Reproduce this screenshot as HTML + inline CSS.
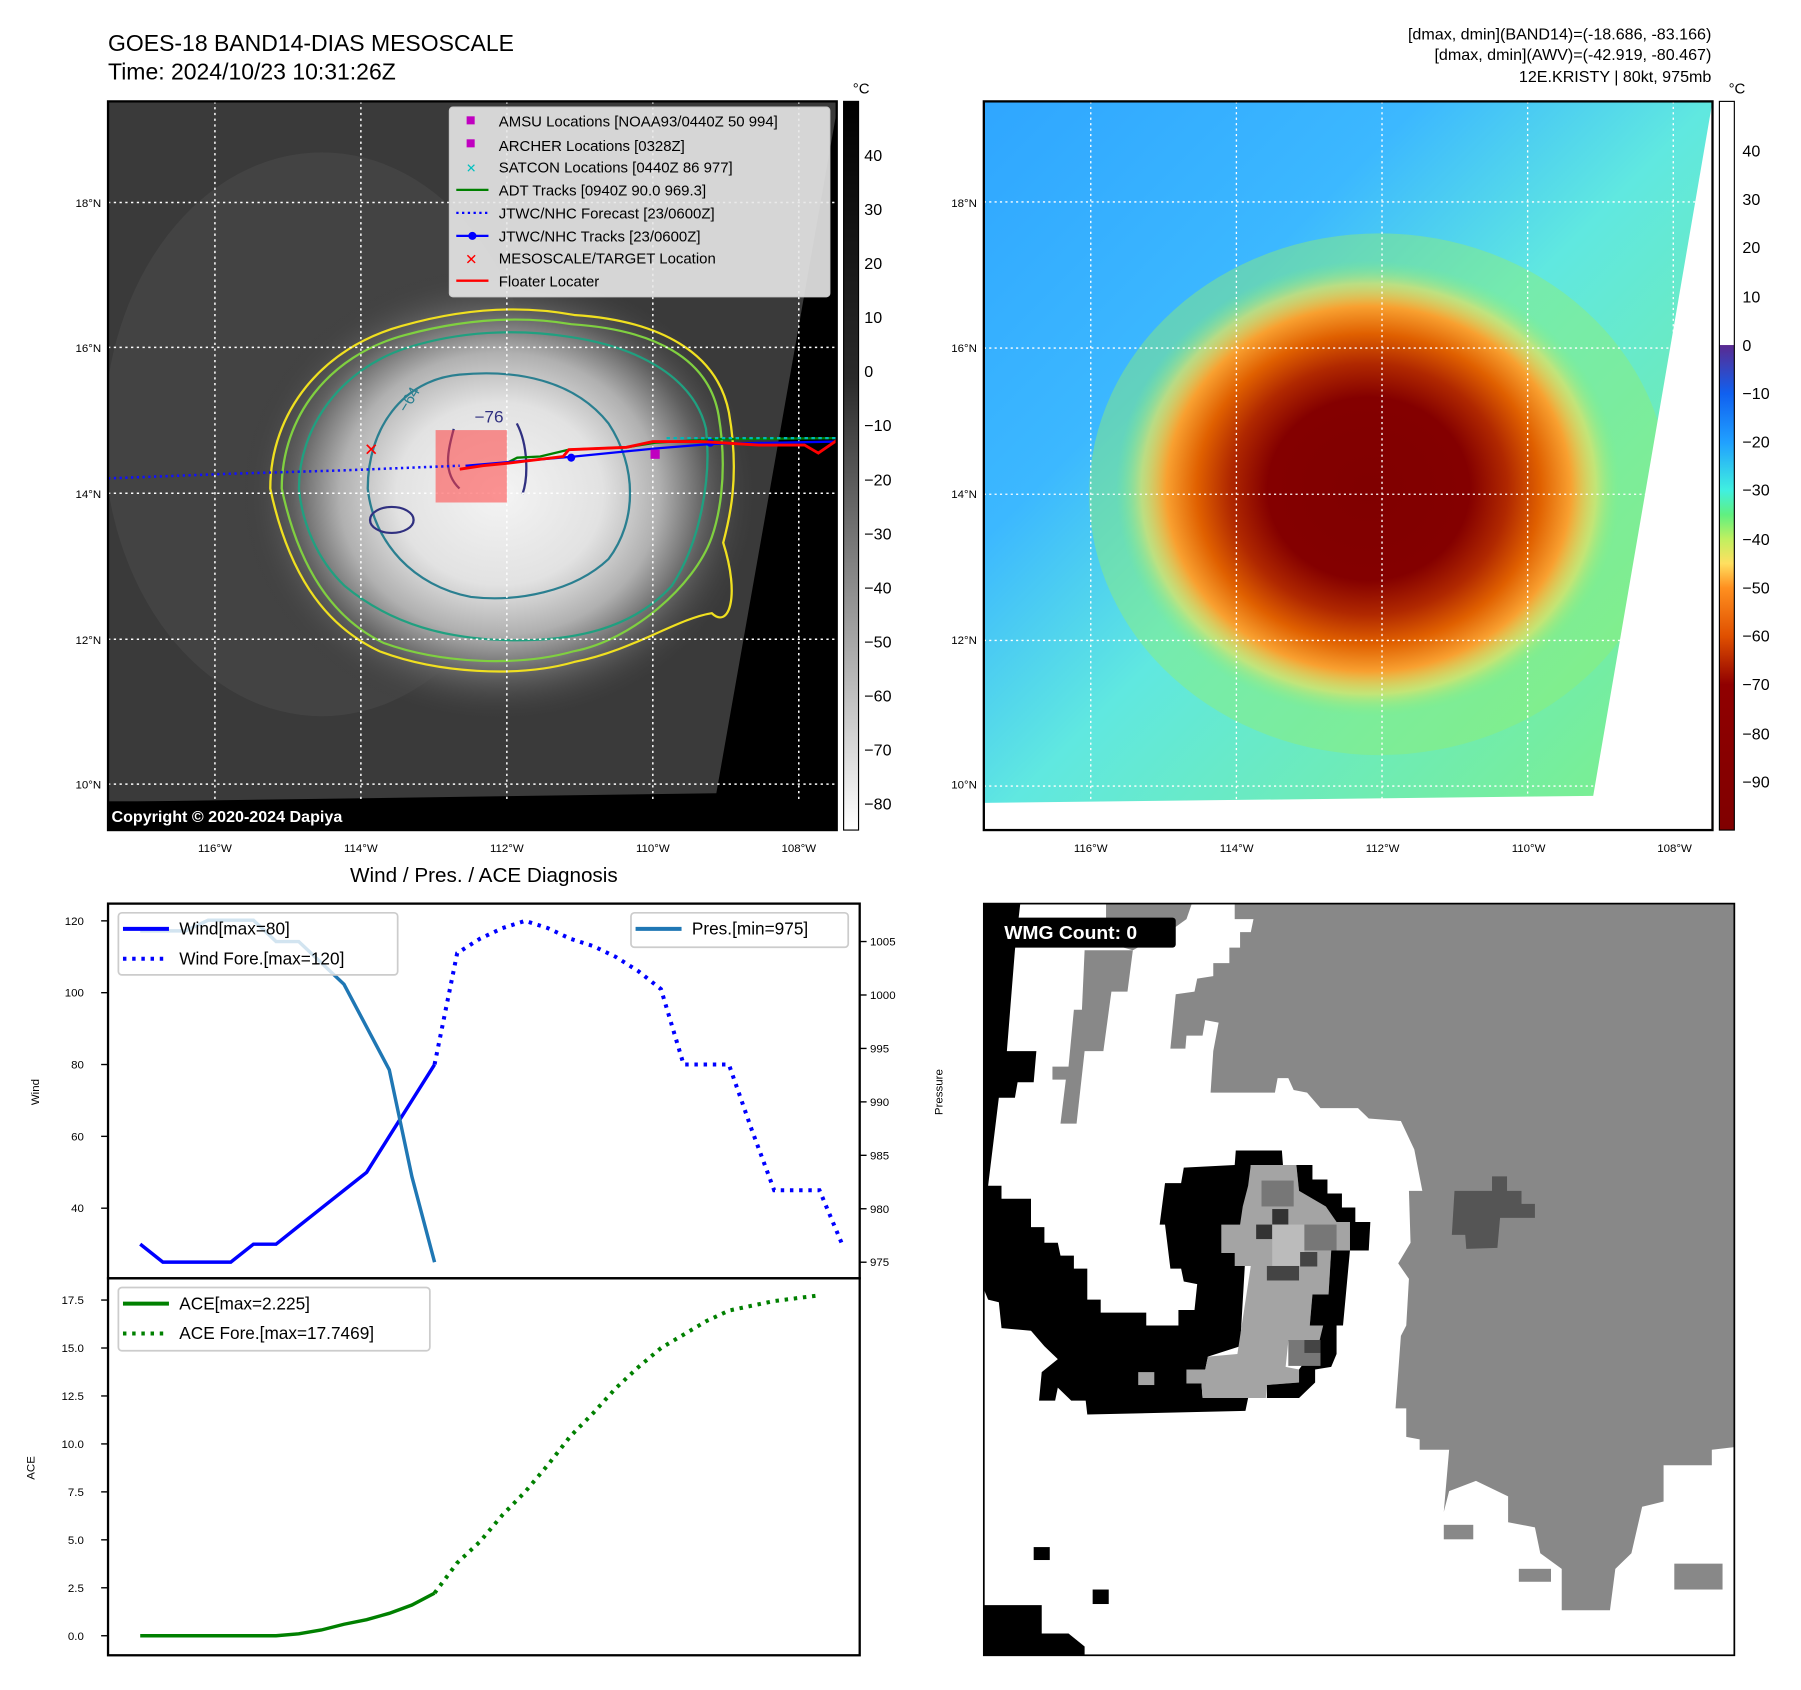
<!DOCTYPE html>
<html><head><meta charset="utf-8"><title>GOES-18 Kristy</title>
<style>
html,body{margin:0;padding:0;background:#fff;}
svg{display:block;font-family:"Liberation Sans","DejaVu Sans",sans-serif;}
</style></head>
<body>
<svg id="root" width="1801" height="1690" viewBox="0 0 1567 1470" xmlns="http://www.w3.org/2000/svg">
<defs>
  <radialGradient id="gStorm" cx="0.5" cy="0.5" r="0.5">
    <stop offset="0" stop-color="#f4f4f4"/>
    <stop offset="0.4" stop-color="#e2e2e2"/>
    <stop offset="0.62" stop-color="#b0b0b0"/>
    <stop offset="0.8" stop-color="#606060"/>
    <stop offset="1" stop-color="#3c3c3c" stop-opacity="0"/>
  </radialGradient>
  <linearGradient id="gBg" x1="0" y1="0" x2="1" y2="1">
    <stop offset="0" stop-color="#2fa6ff"/>
    <stop offset="0.3" stop-color="#3cb8ff"/>
    <stop offset="0.5" stop-color="#60e8e0"/>
    <stop offset="1" stop-color="#80f080"/>
  </linearGradient>
  <radialGradient id="gRed" cx="0.5" cy="0.5" r="0.5">
    <stop offset="0" stop-color="#800000"/>
    <stop offset="0.4" stop-color="#840000"/>
    <stop offset="0.55" stop-color="#b02800"/>
    <stop offset="0.68" stop-color="#e06000"/>
    <stop offset="0.8" stop-color="#f8a030"/>
    <stop offset="0.9" stop-color="#f0e060" stop-opacity="0.6"/>
    <stop offset="1" stop-color="#80f080" stop-opacity="0"/>
  </radialGradient>
  <linearGradient id="gCbL" x1="0" y1="0" x2="0" y2="1">
    <stop offset="0" stop-color="#000"/>
    <stop offset="0.38" stop-color="#2a2a2a"/>
    <stop offset="1" stop-color="#fff"/>
  </linearGradient>
  <linearGradient id="gCbR" x1="0" y1="0" x2="0" y2="1">
    <stop offset="0" stop-color="#5a2a90"/>
    <stop offset="0.1" stop-color="#1060f0"/>
    <stop offset="0.2" stop-color="#20a0ff"/>
    <stop offset="0.3" stop-color="#40f0e0"/>
    <stop offset="0.35" stop-color="#60f080"/>
    <stop offset="0.4" stop-color="#c0f060"/>
    <stop offset="0.45" stop-color="#ffe060"/>
    <stop offset="0.5" stop-color="#ff9020"/>
    <stop offset="0.6" stop-color="#e05000"/>
    <stop offset="0.7" stop-color="#900000"/>
    <stop offset="1" stop-color="#800000"/>
  </linearGradient>
</defs>

<text x="94" y="44" font-size="20">GOES-18 BAND14-DIAS MESOSCALE</text>
<text x="94" y="69" font-size="20">Time: 2024/10/23 10:31:26Z</text>
<g font-size="14" text-anchor="end">
<text x="1489" y="34">[dmax, dmin](BAND14)=(-18.686, -83.166)</text>
<text x="1489" y="52">[dmax, dmin](AWV)=(-42.919, -80.467)</text>
<text x="1489" y="71">12E.KRISTY | 80kt, 975mb</text>
</g>

<g>
<svg x="94" y="88" width="634" height="634" viewBox="187 186 1271 1344" preserveAspectRatio="none">
  <rect x="187" y="186" width="1271" height="1344" fill="#3a3a3a"/>
  <ellipse cx="560" cy="800" rx="380" ry="520" fill="#505050" opacity="0.45"/>
  <ellipse cx="870" cy="910" rx="450" ry="420" fill="url(#gStorm)"/>
  <g fill="none" stroke-width="4">
    <path d="M470,900 C470,760 560,640 700,600 C800,570 900,560 1000,580 C1150,590 1250,650 1270,760 C1290,880 1270,960 1260,1000 C1290,1100 1270,1160 1240,1130 C1180,1140 1100,1200 1000,1220 C900,1250 760,1240 660,1200 C560,1150 500,1050 470,900 Z" stroke="#f0e020"/>
    <path d="M490,900 C490,770 570,655 705,617 C800,590 900,580 995,597 C1140,607 1235,660 1252,765 C1270,880 1250,960 1240,990 C1210,1080 1100,1180 1000,1200 C900,1230 765,1222 668,1185 C575,1138 518,1040 490,900 Z" stroke="#80d040"/>
    <path d="M520,900 C520,790 590,680 710,640 C800,610 900,605 990,620 C1120,640 1210,700 1230,790 C1240,880 1220,1000 1170,1080 C1100,1160 1000,1180 900,1180 C780,1180 680,1150 600,1080 C550,1030 525,960 520,900 Z" stroke="#20a080"/>
    <path d="M640,900 C640,790 700,700 800,690 C900,680 1000,700 1060,780 C1110,860 1110,960 1060,1030 C1000,1090 900,1110 820,1100 C720,1080 650,1000 640,900 Z" stroke="#2a7f90"/>
    <ellipse cx="682" cy="958" rx="38" ry="24" stroke="#303080"/>
    <path d="M790,790 C780,830 770,870 800,900 M900,780 C920,820 920,880 910,910" stroke="#303080"/>
  </g>
  <text x="826" y="778" font-size="30" fill="#303080">−76</text>
  <text x="690" y="760" font-size="28" fill="#2a7f90" transform="rotate(-60 700 745)">−64</text>
  <polygon points="1461,186 1248,1462 187,1478 187,1530 1458,1530 1458,186" fill="#000"/>
</svg>
<g stroke="#fff" stroke-width="1.3" stroke-dasharray="2 3">
  <line x1="187" y1="88" x2="187" y2="722"/><line x1="314" y1="88" x2="314" y2="722"/>
  <line x1="441" y1="88" x2="441" y2="722"/><line x1="568" y1="88" x2="568" y2="722"/>
  <line x1="695" y1="88" x2="695" y2="722"/>
  <line x1="94" y1="176" x2="728" y2="176"/><line x1="94" y1="302" x2="728" y2="302"/>
  <line x1="94" y1="429" x2="728" y2="429"/><line x1="94" y1="556" x2="728" y2="556"/>
  <line x1="94" y1="682" x2="728" y2="682"/>
</g>
<rect x="379" y="374" width="62" height="63" fill="#ff4040" opacity="0.55"/>
<polyline points="94,416 200,412 300,409 400,405" fill="none" stroke="#1010ff" stroke-width="2.2" stroke-dasharray="2 3"/>
<polyline points="440,403 450,398 470,397 495,391 545,389 570,385 620,382 728,381" fill="none" stroke="#008000" stroke-width="2"/>
<polyline points="405,405 500,397 570,390 620,386 728,384" fill="none" stroke="#0000ff" stroke-width="2"/>
<circle cx="497" cy="398" r="3.5" fill="#0000ff"/><circle cx="618" cy="385" r="3.5" fill="#0000ff"/>
<polyline points="400,408 420,405 440,403 490,397 495,391 545,389 568,384 610,384 660,387 700,387 712,394 728,383" fill="none" stroke="#ff0000" stroke-width="2.5"/>
<polyline points="580,381 728,381" fill="none" stroke="#00b8b8" stroke-width="2" stroke-dasharray="3 3"/>
<rect x="566" y="391" width="8" height="8" fill="#c000c0"/>
<text x="323" y="396" font-size="15" fill="#ff0000" text-anchor="middle" font-weight="bold">✕</text>
<rect x="94" y="697" width="634" height="25" fill="#000"/>
<text x="97" y="715" font-size="14" font-weight="bold" fill="#fff">Copyright © 2020-2024 Dapiya</text>
<rect x="94" y="88" width="634" height="634" fill="none" stroke="#000" stroke-width="2"/>
<g>
<rect x="391" y="93" width="331" height="165" rx="3" fill="#e8e8e8" fill-opacity="0.9" stroke="#ccc"/>
<g font-size="13">
<rect x="406" y="101" width="7" height="7" fill="#c000c0"/><text x="434" y="110">AMSU Locations [NOAA93/0440Z 50 994]</text>
<rect x="406" y="121" width="7" height="7" fill="#c000c0"/><text x="434" y="131">ARCHER Locations [0328Z]</text>
<text x="410" y="150" text-anchor="middle" fill="#00c0c0" font-size="11" font-weight="bold">✕</text><text x="434" y="150">SATCON Locations [0440Z 86 977]</text>
<line x1="397" y1="165" x2="425" y2="165" stroke="#008000" stroke-width="2"/><text x="434" y="170">ADT Tracks [0940Z 90.0 969.3]</text>
<line x1="397" y1="185" x2="425" y2="185" stroke="#0000ff" stroke-width="2" stroke-dasharray="2 3"/><text x="434" y="190">JTWC/NHC Forecast [23/0600Z]</text>
<line x1="397" y1="205" x2="425" y2="205" stroke="#0000ff" stroke-width="2"/><circle cx="411" cy="205" r="3.5" fill="#0000ff"/><text x="434" y="210">JTWC/NHC Tracks [23/0600Z]</text>
<text x="410" y="230" text-anchor="middle" fill="#ff0000" font-size="13" font-weight="bold">✕</text><text x="434" y="229">MESOSCALE/TARGET Location</text>
<line x1="397" y1="244" x2="425" y2="244" stroke="#ff0000" stroke-width="2"/><text x="434" y="249">Floater Locater</text>
</g></g>
<g font-size="10" text-anchor="end">
<text x="88" y="180">18°N</text><text x="88" y="306">16°N</text><text x="88" y="433">14°N</text><text x="88" y="560">12°N</text><text x="88" y="686">10°N</text>
</g>
<g font-size="10" text-anchor="middle">
<text x="187" y="741">116°W</text><text x="314" y="741">114°W</text><text x="441" y="741">112°W</text><text x="568" y="741">110°W</text><text x="695" y="741">108°W</text>
</g>
</g>
<g>
<rect x="734" y="88" width="13" height="634" fill="url(#gCbL)" stroke="#000" stroke-width="1"/>
<text x="742" y="81" font-size="13">°C</text>
<g font-size="14">
<text x="752" y="140">40</text><text x="752" y="187">30</text><text x="752" y="234">20</text><text x="752" y="281">10</text>
<text x="752" y="328">0</text><text x="752" y="375">−10</text><text x="752" y="422">−20</text><text x="752" y="469">−30</text>
<text x="752" y="516">−40</text><text x="752" y="563">−50</text><text x="752" y="610">−60</text><text x="752" y="657">−70</text><text x="752" y="704">−80</text>
</g></g>

<g>
<svg x="856" y="88" width="634" height="634" viewBox="44 187 1356 1341" preserveAspectRatio="none">
  <rect x="44" y="187" width="1356" height="1341" fill="url(#gBg)"/>
  <ellipse cx="780" cy="910" rx="540" ry="480" fill="#90f070" opacity="0.45"/>
  <ellipse cx="760" cy="900" rx="470" ry="420" fill="url(#gRed)"/>
  <polygon points="1400,187 1400,1528 44,1528 44,1478 1178,1465" fill="#fff"/>
  <g stroke="#fff" stroke-width="2.5" stroke-dasharray="4 6" fill="none">
    <line x1="243" y1="187" x2="243" y2="1528"/><line x1="514" y1="187" x2="514" y2="1528"/>
    <line x1="785" y1="187" x2="785" y2="1528"/><line x1="1056" y1="187" x2="1056" y2="1528"/>
    <line x1="1327" y1="187" x2="1327" y2="1528"/>
    <line x1="44" y1="372" x2="1400" y2="372"/><line x1="44" y1="641" x2="1400" y2="641"/>
    <line x1="44" y1="910" x2="1400" y2="910"/><line x1="44" y1="1179" x2="1400" y2="1179"/>
    <line x1="44" y1="1447" x2="1400" y2="1447"/>
  </g>
</svg>
<rect x="856" y="88" width="634" height="634" fill="none" stroke="#000" stroke-width="2"/>
<g font-size="10" text-anchor="end">
<text x="850" y="180">18°N</text><text x="850" y="306">16°N</text><text x="850" y="433">14°N</text><text x="850" y="560">12°N</text><text x="850" y="686">10°N</text>
</g>
<g font-size="10" text-anchor="middle">
<text x="949" y="741">116°W</text><text x="1076" y="741">114°W</text><text x="1203" y="741">112°W</text><text x="1330" y="741">110°W</text><text x="1457" y="741">108°W</text>
</g>
</g>
<g>
<rect x="1496" y="88" width="13" height="212" fill="#fff"/>
<rect x="1496" y="300" width="13" height="422" fill="url(#gCbR)"/>
<rect x="1496" y="88" width="13" height="634" fill="none" stroke="#000" stroke-width="1"/>
<text x="1504" y="81" font-size="13">°C</text>
<g font-size="14">
<text x="1516" y="136">40</text><text x="1516" y="178">30</text><text x="1516" y="220">20</text><text x="1516" y="263">10</text>
<text x="1516" y="305">0</text><text x="1516" y="347">−10</text><text x="1516" y="389">−20</text><text x="1516" y="431">−30</text>
<text x="1516" y="474">−40</text><text x="1516" y="516">−50</text><text x="1516" y="558">−60</text><text x="1516" y="600">−70</text>
<text x="1516" y="643">−80</text><text x="1516" y="685">−90</text>
</g></g>

<g>
<svg x="856" y="786" width="653" height="654" viewBox="42 45 1400 1452" preserveAspectRatio="none">
  <rect x="42" y="45" width="1400" height="1452" fill="#fff"/>
  <polygon fill="#888" points="510,45 1442,45 1442,1095 1400,1100 1400,1130 1310,1130 1310,1200 1270,1210 1250,1300 1220,1330 1210,1410 1120,1410 1120,1330 1080,1300 1070,1250 1020,1240 1020,1190 960,1160 910,1180 900,1220 910,1100 855,1100 855,1080 830,1075 830,1020 810,1020 820,880 830,860 835,770 815,740 838,700 835,600 860,600 845,520 820,465 760,460 740,440 670,440 645,410 620,405 610,382 590,382 585,410 465,410 470,330 480,275 455,270 450,300 420,300 418,325 390,325 400,220 435,215 440,190 470,185 470,160 500,160 500,130 520,130 520,100 540,100 545,75 510,75"/>
  <polygon fill="#888" points="230,135 320,135 310,215 280,215 265,330 230,330 215,470 185,470 195,385 170,385 170,360 200,360 210,250 225,250"/>
  <polygon fill="#888" points="270,45 430,45 420,75 400,90 320,135 270,120"/>
  <rect x="1330" y="1320" width="90" height="50" fill="#888"/><rect x="1040" y="1330" width="60" height="25" fill="#888"/><rect x="900" y="1245" width="55" height="28" fill="#888"/>
  <polygon fill="#000" points="42,45 110,45 100,135 85,330 140,330 135,390 105,390 100,420 70,420 50,590 75,590 75,615 130,615 130,670 155,670 155,700 180,700 185,725 210,725 210,750 235,750 235,810 260,810 260,835 345,835 345,860 405,860 405,830 435,830 440,780 415,775 410,750 390,750 380,665 370,665 380,585 410,585 415,555 510,550 512,522 598,522 600,550 540,550 520,900 460,920 455,945 420,945 420,972 448,972 450,1000 535,1000 530,1025 235,1032 232,1005 205,1005 180,980 175,1005 145,1005 150,950 180,925 155,900 130,870 75,865 70,815 50,810 42,790"/>
  <polygon fill="#a4a4a4" points="540,550 625,550 630,600 680,630 700,660 725,660 725,715 690,715 685,800 655,800 650,860 675,860 670,890 610,890 605,940 630,945 630,970 570,975 568,1000 450,1000 448,972 420,972 420,945 455,945 460,920 515,915 540,745 510,745 510,720 485,720 485,665 520,665 525,630 535,590"/>
  <polygon fill="#000" points="625,550 655,550 655,578 683,578 683,605 710,605 710,632 735,632 735,660 763,660 760,715 725,715 712,860 700,860 700,915 690,940 660,945 660,970 630,1000 570,1000 570,975 630,970 630,945 668,890 675,860 650,860 655,800 685,800 690,715 725,715 725,660 700,660 680,630 630,600"/>
  <rect x="560" y="580" width="60" height="50" fill="#777"/><rect x="580" y="635" width="30" height="30" fill="#333"/>
  <rect x="550" y="665" width="30" height="28" fill="#333"/><rect x="580" y="665" width="60" height="80" fill="#bbb"/>
  <rect x="640" y="665" width="60" height="50" fill="#777"/><rect x="570" y="745" width="60" height="28" fill="#444"/>
  <rect x="632" y="718" width="32" height="28" fill="#444"/><rect x="610" y="888" width="60" height="50" fill="#777"/>
  <rect x="640" y="888" width="30" height="25" fill="#444"/>
  <polygon fill="#555" points="920,600 990,600 990,572 1018,572 1018,600 1045,600 1045,625 1070,625 1070,652 1005,652 1000,710 942,712 940,685 915,685"/>
  <polygon fill="#000" points="42,1400 150,1400 150,1455 200,1455 230,1480 230,1497 42,1497"/>
  <rect x="135" y="1288" width="30" height="25" fill="#000"/><rect x="245" y="1370" width="30" height="28" fill="#000"/>
  <rect x="330" y="950" width="30" height="25" fill="#a4a4a4"/>
  <rect x="75" y="72" width="325" height="58" rx="6" fill="#000"/>
  <text x="80" y="113" font-size="36" font-weight="bold" fill="#fff">WMG Count: 0</text>
</svg>
<rect x="856" y="786" width="653" height="654" fill="none" stroke="#000" stroke-width="1.5"/>
</g>

<text x="421" y="767" font-size="18" text-anchor="middle">Wind / Pres. / ACE Diagnosis</text>
<g id="chart"></g>
<rect x="94" y="786" width="654" height="326" fill="none" stroke="#000" stroke-width="2"/>
<rect x="94" y="1112" width="654" height="328" fill="none" stroke="#000" stroke-width="2"/>
<text transform="translate(34,950) rotate(-90)" font-size="10" text-anchor="middle">Wind</text>
<text transform="translate(820,950) rotate(-90)" font-size="10" text-anchor="middle">Pressure</text>
<text transform="translate(30,1277) rotate(-90)" font-size="10" text-anchor="middle">ACE</text>
</svg>
<script>
const windObs = [30,25,25,25,25,30,30,35,40,45,50,60,70,80];
const windFore = [80,111,115,118,120,118,115,113,110,106,101,80,80,80,62,45,45,45,30];
const presObs = [1006,1006,1006,1007,1007,1007,1005,1005,1003,1001,997,993,983,975];
const aceObs = [0,0,0,0,0,0,0,0.1,0.3,0.6,0.84,1.17,1.6,2.225];
const aceFore = [2.225,3.8,4.9,6.3,7.5,8.9,10.4,11.6,12.9,14.0,15.0,15.7,16.4,16.95,17.2,17.45,17.6,17.7469];
const windTicks = [40,60,80,100,120];
const presTicks = [975,980,985,990,995,1000,1005];
const aceTicks = [0,2.5,5,7.5,10,12.5,15,17.5];

const NS = 'http://www.w3.org/2000/svg';
const chart = document.getElementById('chart');
const xS = i => 122 + i * (713 - 122) / 30;
const yW = v => 801 + (120 - v) * 3.125;
const yP = p => 1098 - (p - 975) * 9.3;
const yA = v => 1423 - v * 16.69;
function mk(tag, attrs, parent) {
  const e = document.createElementNS(NS, tag);
  for (const k in attrs) e.setAttribute(k, attrs[k]);
  (parent || chart).appendChild(e);
  return e;
}
function line(vals, off, ys, color, dotted, name) {
  const pts = vals.map((v, i) => xS(i + off).toFixed(1) + ',' + ys(v).toFixed(1)).join(' ');
  const el = mk('polyline', {points: pts, fill: 'none', stroke: color, 'stroke-width': dotted ? 3.5 : 3, 'stroke-dasharray': dotted ? '3 5' : 'none'});
  
  
}
line(windObs, 0, yW, '#0000ff', false, 'wind-line');
line(windFore, 13, yW, '#0000ff', true, 'wind-forecast-line');
line(presObs, 0, yP, '#1f77b4', false, 'pressure-line');
line(aceObs, 0, yA, '#008000', false, 'ace-line');
line(aceFore, 13, yA, '#008000', true, 'ace-forecast-line');
function tick(x1, x2, y, label, tx, anchor, name) {
  mk('line', {x1: x1, x2: x2, y1: y, y2: y, stroke: '#000', 'stroke-width': 1.2});
  const t = mk('text', {x: tx, y: y + 3.5, 'font-size': 10, 'text-anchor': anchor});
  t.textContent = label;
  
  
}
windTicks.forEach(v => tick(88, 94, yW(v), String(v), 73, 'end', 'wind-tick-label'));
presTicks.forEach(v => tick(748, 754, yP(v), String(v), 757, 'start', 'pressure-tick-label'));
aceTicks.forEach(v => tick(88, 94, yA(v), v.toFixed(1), 73, 'end', 'ace-tick-label'));
function legend(x, y, w, h, items, name) {
  const g = mk('g', {});
  
  
  mk('rect', {x: x, y: y, width: w, height: h, rx: 3, fill: '#fff', 'fill-opacity': 0.8, stroke: '#ccc', 'stroke-width': 1.5}, g);
  items.forEach((it, k) => {
    const cy = y + 14 + k * 26;
    mk('line', {x1: x + 4, x2: x + 44, y1: cy, y2: cy, stroke: it[1], 'stroke-width': 3.5, 'stroke-dasharray': it[2] ? '3 5' : 'none'}, g);
    const t = mk('text', {x: x + 53, y: cy + 5, 'font-size': 15}, g);
    t.textContent = it[0];
  });
}
legend(103, 794, 243, 54, [['Wind[max=80]', '#0000ff', false], ['Wind Fore.[max=120]', '#0000ff', true]], 'wind-legend');
legend(549, 794, 189, 30, [['Pres.[min=975]', '#1f77b4', false]], 'pressure-legend');
legend(103, 1120, 271, 55, [['ACE[max=2.225]', '#008000', false], ['ACE Fore.[max=17.7469]', '#008000', true]], 'ace-legend');
</script>
</body></html>
